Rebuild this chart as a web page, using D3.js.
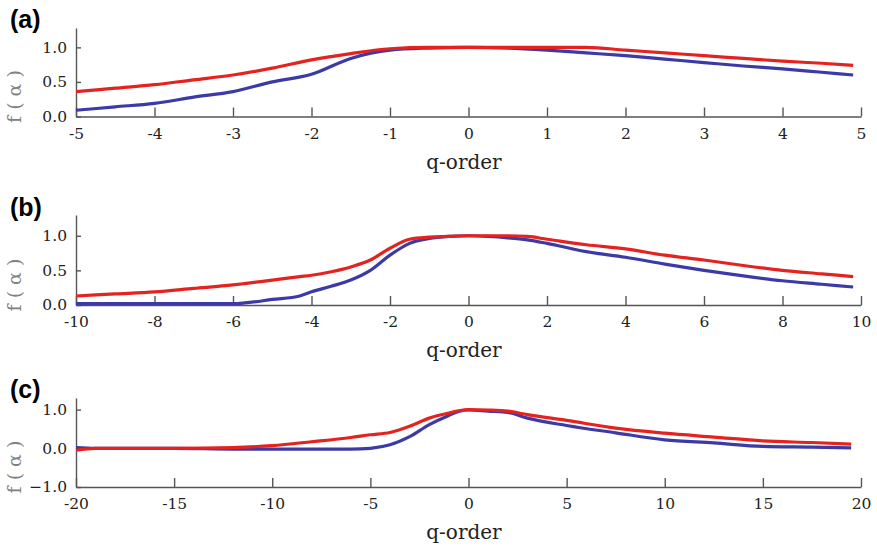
<!DOCTYPE html>
<meta charset="utf-8">
<style>
  html, body { margin: 0; background: #fff; }
  .axis path, .axis line { stroke: #555; stroke-width: 1.4; }
</style>
<body>
<script src="https://cdn.jsdelivr.net/npm/d3@7"></script>
<script>
// panel (a)
var qA = [-5, -4.5, -4, -3.5, -3, -2.5, -2, -1.5, -1, -0.5, 0, 0.5, 1, 1.5, 2, 2.5, 3, 3.5, 4, 4.5, 4.9];
var redA = [0.36, 0.41, 0.46, 0.53, 0.60, 0.70, 0.82, 0.91, 0.98, 1.0, 1.0, 1.0, 1.0, 1.0, 0.96, 0.92, 0.88, 0.84, 0.80, 0.77, 0.74];
var blueA = [0.09, 0.14, 0.19, 0.28, 0.36, 0.50, 0.61, 0.84, 0.96, 0.99, 1.0, 0.99, 0.96, 0.92, 0.88, 0.83, 0.78, 0.73, 0.69, 0.64, 0.60];

// panel (b)
var qB = [-10, -9, -8, -7, -6, -5.7, -5, -4.3, -4, -3.5, -3, -2.5, -2, -1.5, -1, -0.5, 0, 0.5, 1, 1.5, 2, 3, 4, 5, 6, 7, 8, 9, 9.8];
var redB = [0.13, 0.16, 0.19, 0.24, 0.29, 0.31, 0.36, 0.41, 0.43, 0.48, 0.55, 0.65, 0.82, 0.95, 0.98, 0.99, 1.0, 1.0, 1.0, 0.99, 0.95, 0.87, 0.81, 0.72, 0.65, 0.57, 0.50, 0.45, 0.41];
var blueB = [0.02, 0.02, 0.02, 0.02, 0.02, 0.03, 0.08, 0.13, 0.19, 0.27, 0.36, 0.50, 0.72, 0.89, 0.96, 0.99, 1.0, 0.99, 0.97, 0.94, 0.89, 0.77, 0.69, 0.59, 0.50, 0.42, 0.35, 0.30, 0.26];

// panel (c)
var qC = [-20, -19, -15, -12, -10, -8, -6, -5, -4, -3, -2, -1, -0.5, 0, 1, 2, 3, 5, 7.5, 10, 12.5, 15, 17.5, 19.5];
var redC = [-0.05, 0.0, 0.0, 0.02, 0.07, 0.17, 0.28, 0.35, 0.41, 0.57, 0.78, 0.91, 0.97, 1.0, 0.99, 0.96, 0.87, 0.72, 0.52, 0.39, 0.29, 0.19, 0.15, 0.11];
var blueC = [0.02, 0.0, 0.0, -0.02, -0.02, -0.02, -0.02, 0.0, 0.09, 0.30, 0.61, 0.85, 0.95, 0.99, 0.96, 0.93, 0.78, 0.59, 0.40, 0.22, 0.14, 0.05, 0.03, 0.01];

var xTicksA = [-5, -4, -3, -2, -1, 0, 1, 2, 3, 4, 5];
var xTicksB = [-10, -8, -6, -4, -2, 0, 2, 4, 6, 8, 10];
var xTicksC = [-20, -15, -10, -5, 0, 5, 10, 15, 20];
var yTicksAB = [0, 0.5, 1.0];
var yTicksC = [-1.0, 0, 1.0];

var redColor = "#e42320", blueColor = "#3b3aa6";
var serif = "'DejaVu Serif', serif";

var panels = [
  { label: "(a)", q: qA, red: redA, blue: blueA, xdom: [-5, 5], xt: xTicksA, ydom: [0, 1.28], yt: yTicksAB, top: 28, bottom: 116.5 },
  { label: "(b)", q: qB, red: redB, blue: blueB, xdom: [-10, 10], xt: xTicksB, ydom: [0, 1.3], yt: yTicksAB, top: 215, bottom: 305 },
  { label: "(c)", q: qC, red: redC, blue: blueC, xdom: [-20, 20], xt: xTicksC, ydom: [-1, 1.3], yt: yTicksC, top: 398, bottom: 487 }
];

var width = 877, height = 552;
var left = 76, right = 861;

var svg = d3.select("body").append("svg")
  .attr("width", width)
  .attr("height", height);

panels.forEach(function (p) {
  var x = d3.scaleLinear().domain(p.xdom).range([left, right]);
  var y = d3.scaleLinear().domain(p.ydom).range([p.bottom, p.top]);
  var g = svg.append("g");

  // x axis, ticks pointing up
  g.append("g")
    .attr("class", "axis")
    .attr("transform", "translate(0," + p.bottom + ")")
    .call(d3.axisBottom(x).tickValues(p.xt).tickSize(-9).tickSizeOuter(0).tickPadding(11)
      .tickFormat(function (d) { return String(d); }))
    .selectAll("text")
    .style("font-family", serif).style("font-size", "15.5px").style("fill", "#222");

  // y axis, ticks pointing right
  g.append("g")
    .attr("class", "axis")
    .attr("transform", "translate(" + left + ",0)")
    .call(d3.axisLeft(y).tickValues(p.yt).tickSize(-5).tickSizeOuter(0).tickPadding(9)
      .tickFormat(d3.format(".1f")))
    .selectAll("text")
    .style("font-family", serif).style("font-size", "15.5px").style("fill", "#222");

  var line = d3.line()
    .x(function (d, i) { return x(p.q[i]); })
    .y(function (d) { return y(d); })
    .curve(d3.curveMonotoneX);

  g.append("path").datum(p.blue)
    .attr("fill", "none").attr("stroke", blueColor).attr("stroke-width", 3.2)
    .attr("d", line);
  g.append("path").datum(p.red)
    .attr("fill", "none").attr("stroke", redColor).attr("stroke-width", 3.2)
    .attr("d", line);

  // panel label
  g.append("text")
    .attr("x", 10)
    .attr("y", p.bottom - 89)
    .style("font-family", "'Liberation Sans', Arial, sans-serif")
    .style("font-weight", "bold")
    .style("font-size", "25px")
    .text(p.label);

  // y label
  g.append("text")
    .attr("transform", "translate(21," + (p.bottom - 20) + ") rotate(-90)")
    .style("text-anchor", "middle")
    .style("font-family", serif)
    .style("font-size", "19px")
    .style("fill", "#808080")
    .text("f ( α )");

  // x label
  g.append("text")
    .attr("x", 464)
    .attr("y", p.bottom + 52)
    .style("text-anchor", "middle")
    .style("font-family", serif)
    .style("font-size", "20px")
    .style("fill", "#222")
    .text("q-order");
});
</script>
</body>
